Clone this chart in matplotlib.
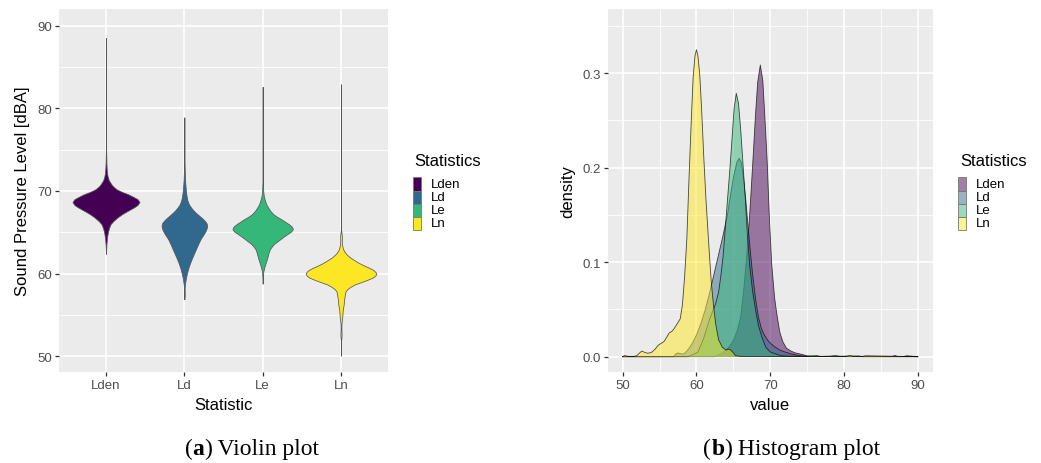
import numpy as np
import matplotlib
matplotlib.use("Agg")
import matplotlib.pyplot as plt
from matplotlib.patches import Rectangle
from matplotlib.colors import to_rgba
from matplotlib.offsetbox import TextArea, HPacker, AnnotationBbox

# ---------------- data ----------------
categories = ["Lden", "Ld", "Le", "Ln"]
colors = ["#440154", "#31688E", "#35B779", "#FDE725"]

lden_value = [50.0, 62.4, 63.0, 63.5, 64.0, 64.5, 65.0, 65.5, 66.0, 66.4, 66.8, 67.2, 67.6, 68.0,
              68.3, 68.66, 69.0, 69.3, 69.6, 69.9, 70.2, 70.6, 70.9, 71.3, 71.7, 72.2, 72.8, 73.4,
              74.0, 74.5, 75.0, 76.0, 80.0, 86.5, 86.9, 87.3, 88.1, 88.5, 90.0]
lden_density = [0, 0, 0.002, 0.004, 0.007, 0.011, 0.017, 0.027, 0.042, 0.070, 0.105, 0.148, 0.200, 0.255,
                0.290, 0.3085, 0.292, 0.250, 0.205, 0.145, 0.098, 0.062, 0.045, 0.026, 0.016, 0.009, 0.006, 0.004,
                0.003, 0.002, 0.0008, 0.0003, 0.0002, 0.0002, 0.0012, 0.0002, 0.0002, 0.001, 0]

ld_value = [50.0, 56.9, 57.2, 57.5, 57.9, 58.3, 58.7, 59.1, 59.5, 60.0, 60.6, 61.2, 61.8, 62.4, 63.0,
            63.6, 64.2, 64.7, 65.1, 65.5, 65.8, 66.1, 66.4, 66.7, 67.0, 67.3, 67.6, 68.0, 68.4, 68.8,
            69.2, 69.7, 70.2, 70.7, 71.3, 72.0, 72.8, 74.0, 75.0, 78.9, 90.0]
ld_density = [0, 0, 0.003, 0.004, 0.003, 0.003, 0.006, 0.010, 0.015, 0.023, 0.035, 0.050, 0.068, 0.088, 0.108,
              0.128, 0.150, 0.175, 0.193, 0.206, 0.2098, 0.205, 0.188, 0.165, 0.138, 0.112, 0.088, 0.062, 0.042, 0.030,
              0.023, 0.017, 0.013, 0.010, 0.007, 0.005, 0.003, 0.001, 0.0005, 0, 0]

le_value = [50.0, 58.8, 59.5, 60.2, 60.6, 61.0, 61.4, 61.8, 62.2, 62.6, 63.0, 63.3, 63.6, 63.9, 64.2,
            64.5, 64.8, 65.1, 65.4, 65.7, 66.0, 66.3, 66.6, 66.9, 67.2, 67.6, 68.0, 68.4, 68.9, 69.4,
            70.0, 70.7, 71.5, 72.5, 75.0, 75.8, 76.3, 76.8, 78.1, 78.8, 79.5, 82.0, 82.6, 90.0]
le_density = [0, 0, 0.002, 0.005, 0.012, 0.020, 0.030, 0.040, 0.048, 0.056, 0.068, 0.085, 0.105, 0.135, 0.165,
              0.195, 0.228, 0.262, 0.2785, 0.268, 0.240, 0.205, 0.170, 0.130, 0.098, 0.070, 0.050, 0.033, 0.020, 0.010,
              0.005, 0.003, 0.001, 0.0005, 0.0003, 0.0008, 0.0012, 0.0003, 0.0006, 0.0012, 0.0005, 0.0008, 0, 0]

ln_value = [50.0, 50.1, 50.3, 50.6, 51.0, 51.5, 51.9, 52.3, 52.6, 53.0, 53.4, 53.9, 54.4, 54.8, 55.2,
            55.6, 56.0, 56.3, 56.7, 57.0, 57.4, 57.8, 58.1, 58.4, 58.7, 59.0, 59.3, 59.55, 59.8, 60.0,
            60.2, 60.45, 60.7, 61.0, 61.3, 61.7, 62.0, 62.3, 62.6, 63.0, 63.5, 64.0, 64.5, 64.9, 65.3,
            66.0, 70.0, 80.3, 80.8, 81.3, 82.5, 82.9, 90.0]
ln_density = [0, 0.0005, 0.0012, 0.0005, 0.0003, 0.0003, 0.001, 0.004, 0.006, 0.0045, 0.0036, 0.0045, 0.008, 0.012, 0.014,
              0.016, 0.021, 0.025, 0.027, 0.030, 0.035, 0.040, 0.055, 0.085, 0.125, 0.190, 0.250, 0.295, 0.318, 0.3247,
              0.318, 0.298, 0.262, 0.210, 0.165, 0.115, 0.080, 0.055, 0.035, 0.018, 0.010, 0.007, 0.008, 0.005, 0.001,
              0.0003, 0.0002, 0.0003, 0.0012, 0.0003, 0.0003, 0.001, 0]

series_values = [lden_value, ld_value, le_value, ln_value]
series_density = [lden_density, ld_density, le_density, ln_density]
data_min = [62.4, 56.9, 58.8, 50.1]
data_max = [88.5, 78.9, 82.6, 82.9]

left_yticks = [50, 60, 70, 80, 90]
right_xticks = [50, 60, 70, 80, 90]
right_yticks = [0.0, 0.1, 0.2, 0.3]
right_yticklabels = ["0.0", "0.1", "0.2", "0.3"]

# ---------------- style ----------------
plt.rcParams['font.family'] = ['Liberation Sans', 'DejaVu Sans']
W, H = 1041, 464
fig = plt.figure(figsize=(W / 100, H / 100), dpi=100)
fig.patch.set_facecolor("white")

def fx(px):
    return px / W

def fy(py):
    return 1 - py / H

PANEL = "#EBEBEB"
TICKC = "#4D4D4D"

def style_axes(ax):
    ax.set_facecolor(PANEL)
    for s in ax.spines.values():
        s.set_visible(False)
    ax.tick_params(axis="both", which="major", length=3.2, width=0.9, color="#333333",
                   labelcolor=TICKC, labelsize=9.5, pad=2)
    ax.tick_params(axis="both", which="minor", length=0)
    ax.grid(True, which="major", color="white", linewidth=1.2)
    ax.grid(True, which="minor", color="white", linewidth=0.6)
    ax.set_axisbelow(True)

# ---------------- left: violin ----------------
axL = fig.add_axes([fx(59), fy(373), fx(388) - fx(59), fy(10) - fy(373)])
style_axes(axL)
max_d = max(max(d) for d in series_density)
for i, (vals, dens) in enumerate(zip(series_values, series_density)):
    v = np.array(vals)
    d = np.array(dens)
    m = (v >= data_min[i]) & (v <= data_max[i])
    half = d[m] / max_d * 0.45
    pos = i + 1
    axL.fill_betweenx(v[m], pos - half, pos + half, facecolor=colors[i],
                      edgecolor="#555555", linewidth=0.55, zorder=3)
axL.set_xlim(0.4, 4.6)
axL.set_ylim(48.12, 92.0)
axL.set_xticks(range(1, len(categories) + 1))
axL.set_xticklabels(categories)
axL.set_yticks(left_yticks)
axL.set_yticks([55, 65, 75, 85], minor=True)
axL.grid(False, axis="x", which="minor")

fig.text(fx(23), fy(191.5), "Sound Pressure Level [dBA]", rotation=90, ha="center", va="center",
         fontsize=12, color="black")
fig.text(fx(223.5), fy(406), "Statistic", ha="center", va="center", fontsize=12, color="black")

# ---------------- right: density ----------------
axR = fig.add_axes([fx(608.3), fy(373), fx(932.7) - fx(608.3), fy(10) - fy(373)])
style_axes(axR)
for i, (vals, dens) in enumerate(zip(series_values, series_density)):
    axR.fill_between(vals, dens, 0, facecolor=to_rgba(colors[i], 0.5), edgecolor="none",
                     linewidth=0, zorder=3)
    axR.plot(vals, dens, color=(0, 0, 0, 0.7), linewidth=0.6, zorder=3)
axR.set_xlim(48.05, 92.03)
axR.set_ylim(-0.0162, 0.3677)
axR.set_xticks(right_xticks)
axR.set_xticks([55, 65, 75, 85], minor=True)
axR.set_yticks(right_yticks)
axR.set_yticklabels(right_yticklabels)
axR.set_yticks([0.05, 0.15, 0.25, 0.35], minor=True)

fig.text(fx(568), fy(191.5), "density", rotation=90, ha="center", va="center", fontsize=12, color="black")
fig.text(fx(770.5), fy(406), "value", ha="center", va="center", fontsize=12, color="black")

# ---------------- legends ----------------
def draw_legend(title_x, key_x0, key_x1, label_x, alpha):
    fig.text(fx(title_x), fy(162), "Statistics", ha="left", va="center", fontsize=12, color="black")
    top = 178.3
    step = 13.2
    for k, cat in enumerate(categories):
        y0 = top + k * step
        rect = Rectangle((fx(key_x0), fy(y0 + step)), fx(key_x1) - fx(key_x0), fy(y0) - fy(y0 + step),
                         transform=fig.transFigure, facecolor=to_rgba(colors[k], alpha),
                         edgecolor="#777777", linewidth=0.6)
        fig.add_artist(rect)
        fig.text(fx(label_x), fy(y0 + step / 2), cat, ha="left", va="center", fontsize=9.5, color="black")

draw_legend(414, 413.3, 421.3, 431, 1.0)
draw_legend(960, 958.3, 965.7, 976, 0.5)

# ---------------- captions ----------------
def caption(cx, cy, letter, rest):
    fs = 17
    parts = [TextArea("(", textprops=dict(family="Liberation Serif", size=fs)),
             TextArea(letter, textprops=dict(family="Liberation Serif", size=fs, weight="bold")),
             TextArea(")", textprops=dict(family="Liberation Serif", size=fs)),
             TextArea(" " + rest, textprops=dict(family="Liberation Serif", size=fs))]
    box = HPacker(children=parts, align="baseline", pad=0, sep=0)
    ab = AnnotationBbox(box, (fx(cx), fy(cy)), xycoords="figure fraction", frameon=False,
                        box_alignment=(0.5, 0.5), pad=0)
    fig.add_artist(ab)

caption(252, 449, "a", "Violin plot")
caption(792, 449, "b", "Histogram plot")

fig.savefig("out.png", dpi=100, facecolor="white")
